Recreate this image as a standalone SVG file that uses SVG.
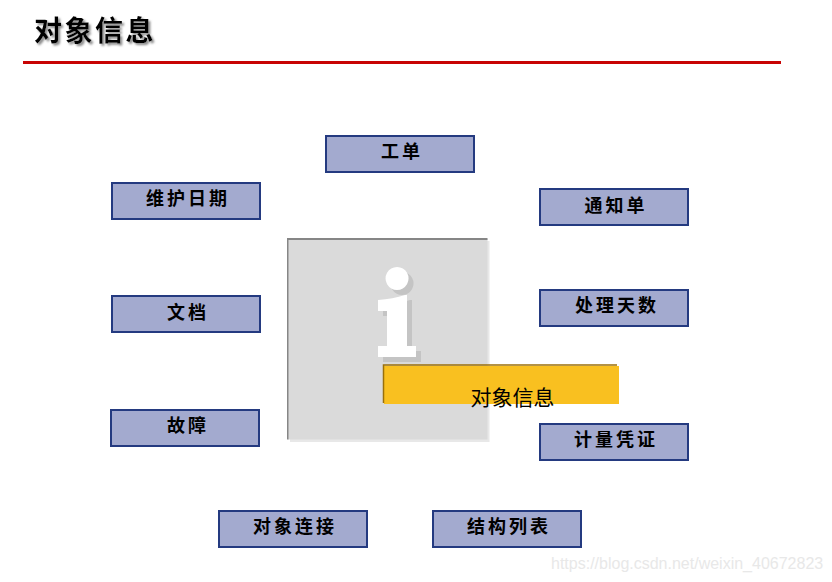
<svg xmlns="http://www.w3.org/2000/svg" width="832" height="582" viewBox="0 0 832 582">
<defs>
<filter id="soft" x="-10%" y="-20%" width="125%" height="150%"><feDropShadow dx="2" dy="2" stdDeviation="1" flood-color="#888"/></filter>
<path id="glyph-i" d="M378 300q15-1 27-5h2v51h9v11h-38v-11h9v-35h-9zM397 267a11.500 11.500 0 1 0 .1 0z"/>
</defs>
<style>
.box{fill:#a3aacf;stroke:#243a80;stroke-width:2}
.lbl{font-family:"Noto Sans CJK SC","Noto Sans CJK JP",sans-serif;font-size:18px;font-weight:700;letter-spacing:3px;fill:#000;text-anchor:middle}
.ttl{font-family:"Noto Sans CJK SC","Noto Sans CJK JP",sans-serif;font-size:28px;font-weight:700;letter-spacing:2.500px}
</style>
<rect width="832" height="582" fill="#fff"/>
<g id="title">
<text class="ttl" x="34" y="41" fill="#000" filter="url(#soft)">对象信息</text>
<rect x="23" y="61" width="758" height="3" fill="#c80404"/>
</g>
<g id="center-panel">
<rect x="290" y="241" width="199.500" height="201" fill="#e8e8e8"/>
<rect x="288" y="239" width="199.500" height="200.500" fill="#dadada"/>
<rect x="287" y="238" width="200.500" height="2" fill="#868686"/>
<rect x="287" y="238" width="1.500" height="201.500" fill="#868686"/>
<use href="#glyph-i" fill="#c4c4c4" transform="translate(5,5)"/>
<use href="#glyph-i" fill="#fff"/>
</g>
<g id="center-label">
<rect x="384" y="366" width="235" height="38" fill="#f9c020"/>
<path d="M383.500 403V365H617" fill="none" stroke="#9a6f0a" stroke-width="1.500"/>
<text x="512.500" y="405" font-family="Noto Sans CJK SC,Noto Sans CJK JP,sans-serif" font-size="21" text-anchor="middle" fill="#000">对象信息</text>
</g>
<g id="connectors"></g>
<g id="n1"><rect class="box" x="326" y="136" width="148" height="36"/><text class="lbl" x="402" y="158">工单</text></g>
<g id="n2"><rect class="box" x="112" y="183" width="148" height="36"/><text class="lbl" x="188" y="205">维护日期</text></g>
<g id="n3"><rect class="box" x="540" y="189" width="148" height="36"/><text class="lbl" x="616" y="212">通知单</text></g>
<g id="n4"><rect class="box" x="112" y="296" width="148" height="36"/><text class="lbl" x="188" y="319">文档</text></g>
<g id="n5"><rect class="box" x="540" y="290" width="148" height="36"/><text class="lbl" x="617" y="312">处理天数</text></g>
<g id="n6"><rect class="box" x="111" y="410" width="148" height="36"/><text class="lbl" x="188" y="432">故障</text></g>
<g id="n7"><rect class="box" x="540" y="424" width="148" height="36"/><text class="lbl" x="616" y="446">计量凭证</text></g>
<g id="n8"><rect class="box" x="219" y="511" width="148" height="36"/><text class="lbl" x="295" y="533">对象连接</text></g>
<g id="n9"><rect class="box" x="433" y="511" width="148" height="36"/><text class="lbl" x="509" y="533">结构列表</text></g>
<text id="watermark" x="551" y="569" font-family="Liberation Sans,sans-serif" font-size="16" fill="#e8e8e8">https://blog.csdn.net/weixin_40672823</text>
</svg>
